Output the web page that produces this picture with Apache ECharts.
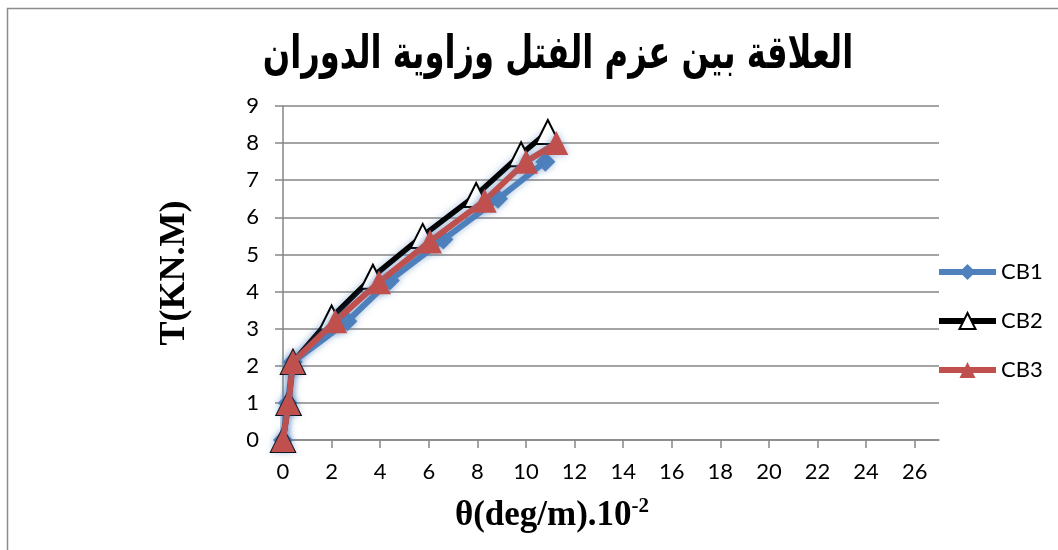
<!DOCTYPE html>
<html>
<head>
<meta charset="utf-8">
<script src="https://cdn.jsdelivr.net/npm/echarts@6/dist/echarts.min.js"></script>
<style>html,body{margin:0;padding:0;background:#fff;}#c{width:1058px;height:550px;}</style>
</head>
<body>
<div id="c"></div>
<script>
const titleText = 'العلاقة بين عزم الفتل وزاوية الدوران';
const yAxisTitle = 'T(KN.M)';
const xAxisTitleMain = 'θ(deg/m).10';
const xAxisTitleSup = '-2';
const seriesNames = ['CB1', 'CB2', 'CB3'];
const xTicks = [0, 2, 4, 6, 8, 10, 12, 14, 16, 18, 20, 22, 24, 26];
const yTicks = [0, 1, 2, 3, 4, 5, 6, 7, 8, 9];
const cb1X = [0, 0.2, 0.4, 2.65, 4.4, 6.6, 8.85, 10.8];
const cb1Y = [0, 1, 2.1, 3.2, 4.3, 5.4, 6.5, 7.5];
const cb2X = [0, 0.23, 0.41, 2.0, 3.7, 5.75, 7.95, 9.8, 10.9];
const cb2Y = [0, 1, 2.1, 3.3, 4.4, 5.5, 6.6, 7.7, 8.3];
const cb3X = [0, 0.23, 0.41, 2.15, 3.95, 6.05, 8.3, 10.0, 11.25];
const cb3Y = [0, 1, 2.1, 3.2, 4.25, 5.35, 6.45, 7.5, 8.0];

const zip = (xs, ys) => xs.map((x, i) => [x, ys[i]]);
const chart = echarts.init(document.getElementById('c'), null, {renderer: 'canvas'});
const tickFont = 'Lato, "Open Sans", sans-serif';
const glow = {shadowColor: 'rgba(79,129,189,0.5)', shadowBlur: 7};
chart.setOption({
  animation: false,
  backgroundColor: '#fff',
  graphic: [
    {
      type: 'rect', silent: true, z: -1,
      shape: {x: 7.5, y: 8.5, width: 1200, height: 700},
      style: {fill: 'none', stroke: '#8c8c8c', lineWidth: 1.5}
    },
    {
      type: 'text', silent: true, x: 558, y: 56, scaleX: 0.7,
      style: {
        text: titleText, fill: '#000',
        font: 'bold 46px "DejaVu Sans", sans-serif',
        align: 'center', verticalAlign: 'middle'
      }
    },
    {
      type: 'text', silent: true, x: 552, y: 516,
      style: {
        text: '{a|' + xAxisTitleMain + '}{s|' + xAxisTitleSup + '}',
        align: 'center', verticalAlign: 'middle',
        rich: {
          a: {fontFamily: '"Liberation Serif", serif', fontWeight: 'bold', fontSize: 35, fill: '#000', color: '#000'},
          s: {fontFamily: '"Liberation Serif", serif', fontWeight: 'bold', fontSize: 21, fill: '#000', color: '#000', verticalAlign: 'top', padding: [0, 0, 18, 0]}
        }
      }
    }
  ],
  legend: {
    orient: 'vertical',
    left: 936,
    top: 261,
    padding: 0,
    itemWidth: 57,
    itemHeight: 20,
    itemGap: 27,
    data: seriesNames,
    lineStyle: {width: 6},
    textStyle: {fontFamily: tickFont, fontSize: 22, color: '#000'}
  },
  grid: {left: 283, right: 119, top: 106, bottom: 110, containLabel: false},
  xAxis: {
    type: 'value', min: 0, max: 27, interval: 2,
    axisLine: {show: true, onZero: false, lineStyle: {color: '#868686', width: 1.5}},
    axisTick: {show: true, length: 8, customValues: xTicks, lineStyle: {color: '#868686', width: 1.5}},
    axisLabel: {customValues: xTicks, margin: 21, fontFamily: tickFont, fontSize: 22, color: '#000'},
    splitLine: {show: false}
  },
  yAxis: {
    type: 'value', min: 0, max: 9, interval: 1,
    name: yAxisTitle, nameLocation: 'middle', nameGap: 90, nameRotate: 90,
    nameTextStyle: {fontFamily: '"Liberation Serif", serif', fontWeight: 'bold', fontSize: 36, color: '#000'},
    axisLine: {show: true, lineStyle: {color: '#868686', width: 1.5}},
    axisTick: {show: true, length: 8, lineStyle: {color: '#868686', width: 1.5}},
    axisLabel: {margin: 24, fontFamily: tickFont, fontSize: 22, color: '#000', formatter: v => String(v)},
    splitLine: {show: true, lineStyle: {color: '#868686', width: 1.5}}
  },
  series: [
    {
      name: seriesNames[0], type: 'line', data: zip(cb1X, cb1Y),
      symbol: 'diamond', symbolSize: 20, z: 2,
      itemStyle: Object.assign({color: '#4F81BD'}, glow),
      lineStyle: Object.assign({color: '#4F81BD', width: 6}, glow)
    },
    {
      name: seriesNames[1], type: 'line', data: zip(cb2X, cb2Y),
      symbol: 'triangle', symbolSize: 24, z: 3,
      itemStyle: {color: '#fff', borderColor: '#000', borderWidth: 2},
      lineStyle: Object.assign({color: '#000', width: 5.5}, glow)
    },
    {
      name: seriesNames[2], type: 'line', data: zip(cb3X, cb3Y),
      symbol: 'triangle', symbolSize: 24, z: 4,
      itemStyle: Object.assign({color: '#C0504D'}, glow),
      lineStyle: Object.assign({color: '#C0504D', width: 6}, glow)
    }
  ]
});
</script>
</body>
</html>
